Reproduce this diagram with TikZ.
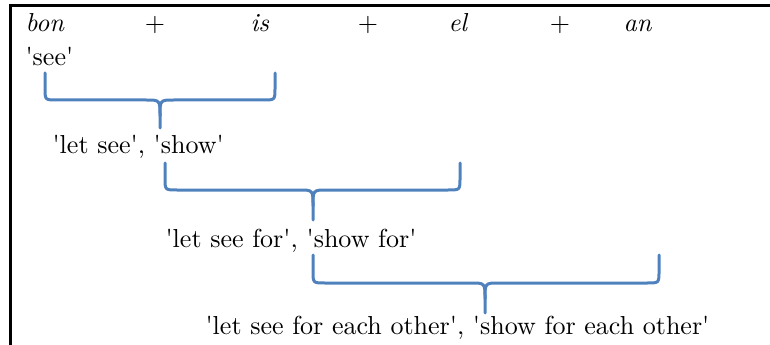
\documentclass[tikz,border=0pt]{standalone}
\usepackage{tikz}
\usetikzlibrary{calc}

\definecolor{bracecol}{RGB}{79,129,189}
\newcommand{\q}{\textquotesingle}

\begin{document}
\begin{tikzpicture}[x=0.4pt,y=-0.4pt,
    gloss/.style={anchor=base west, inner sep=0pt, font=\fontsize{10.4}{12}\selectfont},
    brace/.style={draw=bracecol, line width=1.2pt, line cap=round}]
    \useasboundingbox (0,0) rectangle (770,345);
    % frame
    \draw[line width=1.2pt] (10,345) -- (10,6) -- (770,6);
    % morphemes
    \node[gloss] (bon) at (25,32) {\textit{bon}};
    \node[gloss, anchor=base] (plusA) at (155,32) {+};
    \node[gloss] (is) at (250,32) {\textit{is}};
    \node[gloss, anchor=base] (plusB) at (368,32) {+};
    \node[gloss] (el) at (448,32) {\textit{el}};
    \node[gloss, anchor=base] (plusC) at (560,32) {+};
    \node[gloss] (an) at (623,32) {\textit{an}};
    % glosses
    \node[gloss] (see) at (25,66) {\q see\q};
    \node[gloss] (show) at (52,154) {\q let see\q, \q show\q};
    \node[gloss] (showfor) at (165,247) {\q let see for\q, \q show for\q};
    \node[gloss] (showeach) at (205,334) {\q let see for each other\q, \q show for each other\q};
    % braces
    \draw[brace] (45,73) -- (45,88) .. controls (45,100) .. (57,100) -- (146,100)
        .. controls (160,100) .. (160,116) -- (160,128);
    \draw[brace] (275,73) -- (275,88) .. controls (275,100) .. (263,100) -- (174,100)
        .. controls (160,100) .. (160,116);
    \draw[brace] (165,163) -- (165,178) .. controls (165,190) .. (177,190) -- (299,190)
        .. controls (313,190) .. (313,206) -- (313,220);
    \draw[brace] (460,163) -- (460,178) .. controls (460,190) .. (448,190) -- (327,190)
        .. controls (313,190) .. (313,206);
    \draw[brace] (313,255) -- (313,271) .. controls (313,283) .. (325,283) -- (471,283)
        .. controls (485,283) .. (485,299) -- (485,313);
    \draw[brace] (659,255) -- (659,271) .. controls (659,283) .. (647,283) -- (499,283)
        .. controls (485,283) .. (485,299);
\end{tikzpicture}
\end{document}
